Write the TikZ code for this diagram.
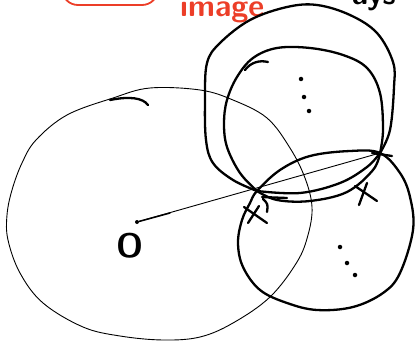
\documentclass[tikz,border=0pt]{standalone}
\usepackage{tikz}
\usetikzlibrary{positioning}
\definecolor{inkred}{RGB}{236,62,40}

\begin{document}
\begin{tikzpicture}[
          x=1pt, y=-1pt,
          thinline/.style={line width=0.9pt, line cap=round, line join=round},
          thickline/.style={line width=2.3pt, line cap=round, line join=round},
          dotmark/.style={circle, fill, inner sep=0pt, minimum size=4.5pt},
          note/.style={font=\sffamily\bfseries\fontsize{31}{36}\selectfont, inner sep=0pt}
      ]
      \useasboundingbox (0,0) rectangle (415,345);
      \clip (0,0) rectangle (415,345);

      \coordinate (P1) at (257,191);
      \coordinate (P2) at (380,153);

      \draw[inkred, thickline, line width=1.8pt, rounded corners=16pt] (62,-40) rectangle (158,5);
      \node[note, text=inkred, anchor=base west] (lbl) at (180,17) {image};
      \node[note, anchor=base east] (lblr) at (396,5) {ays};

      \draw[thinline] plot[smooth cycle, tension=0.6] coordinates {
          (113,98) (150,88) (200,90) (233,100) (267,118) (290,148) (305,178)
          (312,207) (308,235) (297,262) (270,297) (233,323) (200,337) (163,340)
          (120,336) (83,327) (43,303) (20,273) (8,240) (7,215) (12,190)
          (22,163) (36,140) (67,115)};
      \draw[thickline] (110,100) .. controls (130,96) and (143,98) .. (148,105);

      \draw[thickline] plot[smooth, tension=0.6] coordinates {
          (P1) (233,180) (213,163) (206,140) (205,100) (207,63) (220,43) (250,20)
          (287,7) (317,5) (350,15) (377,33) (393,62) (394,87) (390,130) (P2)};
      \draw[thickline] plot[smooth, tension=0.6] coordinates {
          (P2) (373,170) (347,192) (310,201) (277,200) (P1)};

      \draw[thickline] plot[smooth, tension=0.6] coordinates {
          (P1) (240,173) (227,147) (224,123) (227,100) (237,77) (253,58) (277,48)
          (310,48) (343,55) (367,68) (380,93) (383,130) (P2)};
      \draw[thickline] plot[smooth, tension=0.6] coordinates {
          (P2) (367,167) (340,183) (300,193) (P1)};
      \draw[thickline] (245,70) .. controls (251,62) and (260,60) .. (268,62);

      \draw[thickline] plot[smooth cycle, tension=0.6] coordinates {
          (P1) (280,170) (310,156) (350,151) (P2) (400,173) (410,197) (413,230)
          (400,273) (383,293) (353,307) (317,310) (287,303) (260,290) (243,267)
          (238,243) (242,220) (250,203)};
      \draw[thickline] (372,153) -- (392,156);
      \draw[thickline] (262,197) -- (287,198);
      \draw[thickline] (263,199) .. controls (268,204) .. (267,212);

      \node[dotmark, minimum size=4pt] (ctr) at (137,222) {};
      \draw[thinline] (ctr) -- (P2);
      \draw[thickline, line width=1.5pt] (ctr) -- (170,213);
      \node[note, font=\sffamily\bfseries\fontsize{34}{38}\selectfont] (orig) at (130,246) {O};

      \draw[thickline] (244,207) -- (267,223);
      \draw[thickline] (248,223) -- (259,206);
      \draw[thickline] (355,186) -- (377,201);
      \draw[thickline] (359,205) -- (367,183);

      \foreach \p in {(301,79), (304,97), (309,111), (340,247), (347,263), (355,275)}
          \node[dotmark] at \p {};
\end{tikzpicture}
\end{document}
